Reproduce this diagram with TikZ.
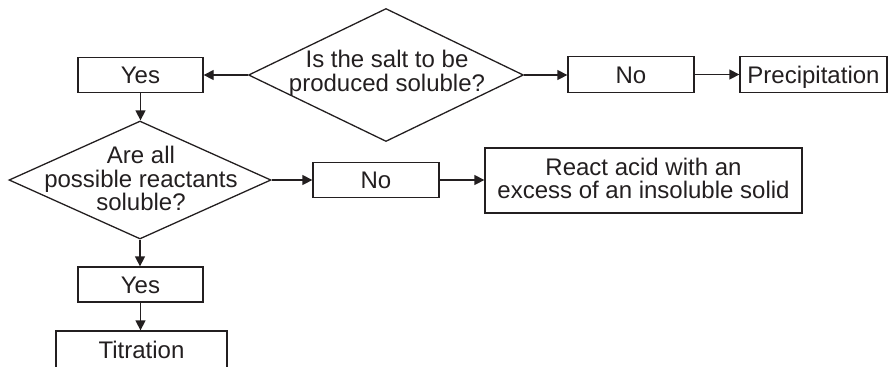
\documentclass[tikz,border=0pt]{standalone}
\usepackage{fontspec}
\setmainfont{Liberation Sans}
\usetikzlibrary{shapes.geometric,arrows.meta}
\definecolor{ink}{HTML}{231F20}
\begin{document}
\begin{tikzpicture}[x=0.5pt,y=-0.5pt,
  every node/.style={font=\fontsize{12}{11.75}\selectfont, text=ink},
  box/.style={draw=ink, line width=0.65pt, rectangle, inner sep=0pt, text height=8.6pt, text depth=0pt},
  dia/.style={draw=ink, line width=0.65pt, diamond, inner sep=0pt},
  txt/.style={align=center, inner sep=0pt},
  arr/.style={draw=ink, line width=0.65pt, -{Triangle[length=5pt,width=5pt]}}]
\useasboundingbox (0,0) rectangle (889,366);
\begin{scope}
\clip (0,0) rectangle (889,366);
% row 1
\node[dia, minimum width=137.5pt, minimum height=66.5pt] (d1) at (386,75) {};
\node[txt] (d1t) at (387,73.5) {Is the salt to be\\produced soluble?};
\node[box, minimum width=62.5pt, minimum height=17.5pt] (yes1) at (140.5,75) {Yes};
\node[box, minimum width=63pt, minimum height=18pt] (no1) at (631,74.5) {No};
\node[box, minimum width=73.5pt, minimum height=18pt] (prec) at (813.5,74.5) {Precipitation};
% row 2
\node[dia, minimum width=131pt, minimum height=59pt] (d2) at (140,180) {};
\node[txt] (d2t) at (141,178.5) {Are all\\possible reactants\\soluble?};
\node[box, minimum width=63pt, minimum height=17.5pt] (no2) at (376,180) {No};
\node[box, minimum width=158.5pt, minimum height=32.5pt] (react) at (643.5,180.5) {};
\node[txt] (reactt) at (643.5,178.5) {React acid with an\\excess of an insoluble solid};
% column
\node[box, minimum width=62.5pt, minimum height=17.5pt] (yes2) at (140.5,284.5) {Yes};
\node[box, minimum width=85.5pt, minimum height=19pt] (tit) at (141.5,350) {Titration};
% connectors
\draw[arr] (d1.west) -- (d1.west -| yes1.east);
\draw[arr] (d1.east) -- (d1.east -| no1.west);
\draw[arr] (no1.east) -- (prec.west);
\draw[arr] (yes1.south) -- (yes1.south |- d2.north);
\draw[arr] (d2.east) -- (d2.east -| no2.west);
\draw[arr] (no2.east) -- (no2.east -| react.west);
\draw[arr] (d2.south) -- (d2.south |- yes2.north);
\draw[arr] (yes2.south) -- (yes2.south |- tit.north);
\end{scope}
\end{tikzpicture}
\end{document}
